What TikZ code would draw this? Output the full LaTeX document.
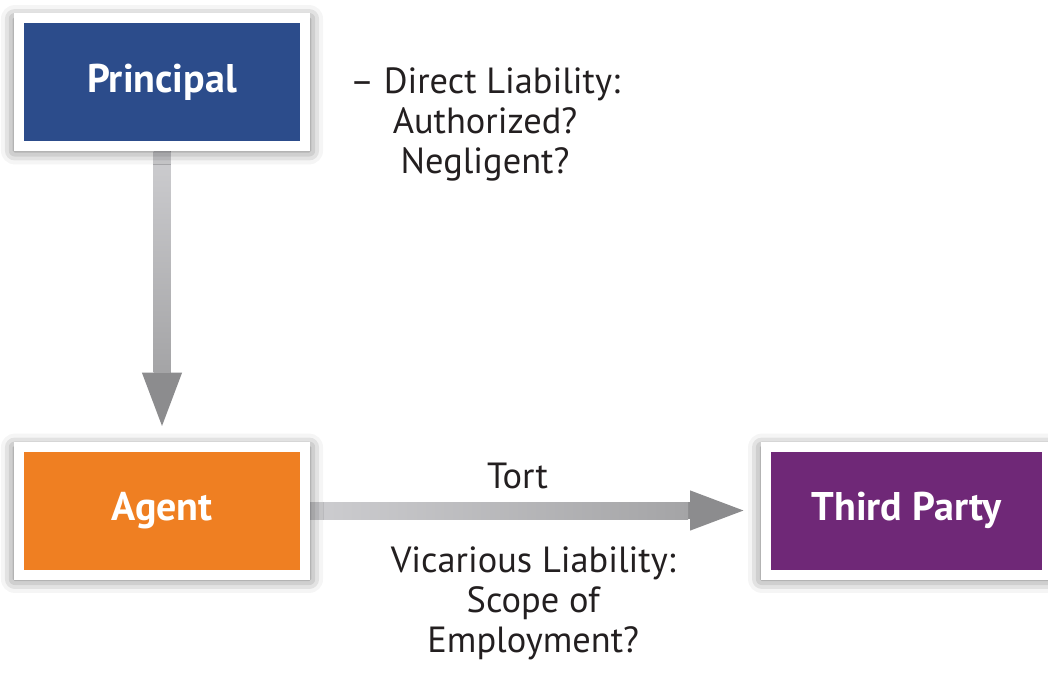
\documentclass[tikz,border=0pt]{standalone}
\usepackage{fontspec}
\setmainfont{PT Sans}
\usetikzlibrary{arrows.meta,calc,shadows.blur}
\pgfdeclarelayer{bg}
\pgfsetlayers{bg,main}
\definecolor{principalblue}{HTML}{2C4C8B}
\definecolor{agentorange}{HTML}{EF7F22}
\definecolor{partypurple}{HTML}{6F2877}
\definecolor{shaftlight}{HTML}{CDCDD0}
\definecolor{shaftdark}{HTML}{A4A4A6}
\definecolor{headgray}{HTML}{8C8C8E}
\definecolor{inkblack}{HTML}{231F20}
\tikzset{
	party/.style={draw=white, line width=7.5pt, minimum width=214.5pt, minimum height=96pt,
		text=white, font=\fontsize{30}{36}\selectfont\bfseries,
		blur shadow={shadow xshift=0pt, shadow yshift=-2pt, shadow blur radius=10pt, shadow opacity=60, shadow scale=1.03}},
	note/.style={align=center, text=inkblack, font=\fontsize{27.3}{30.2}\selectfont, inner sep=0pt},
	link/.style={line width=12.75pt, draw=headgray, -{Triangle[length=43.5pt,width=26.25pt]}, shorten >=8.25pt}
}
\begin{document}
\begin{tikzpicture}[x=0.75pt,y=-0.75pt]
	\useasboundingbox (0,0) rectangle (1048,672);
	\node[party, fill=principalblue] (principal) at (162,82) {Principal};
	\node[party, fill=agentorange] (agent) at (162,510.5) {Agent};
	\node[party, fill=partypurple, minimum width=210.75pt] (third) at (906.5,510.5) {Third Party};
	\node[note, anchor=north] (direct) at (485,67) {– Direct Liability:\\Authorized?\\Negligent?};
	% arrows go under the boxes and their shadows
	\begin{pgfonlayer}{bg}
		\draw[link] (principal) -- (agent);
		\shade[top color=shaftlight, bottom color=shaftdark] ($(principal.south)+(-8.5,0)$) rectangle ($(agent.north)+(8.5,-69)$);
		\draw[link, shorten >=9.75pt] (agent) -- (third)
			node[note, pos=0.46, above=10pt] (tort) {Tort}
			node[note, pos=0.495, below=20.5pt] (vicarious) {Vicarious Liability:\\Scope of\\Employment?};
		\shade[left color=shaftlight, right color=shaftdark] ($(agent.east)+(0,-8.5)$) rectangle ($(third.west)+(-73,8.5)$);
	\end{pgfonlayer}
\end{tikzpicture}
\end{document}
